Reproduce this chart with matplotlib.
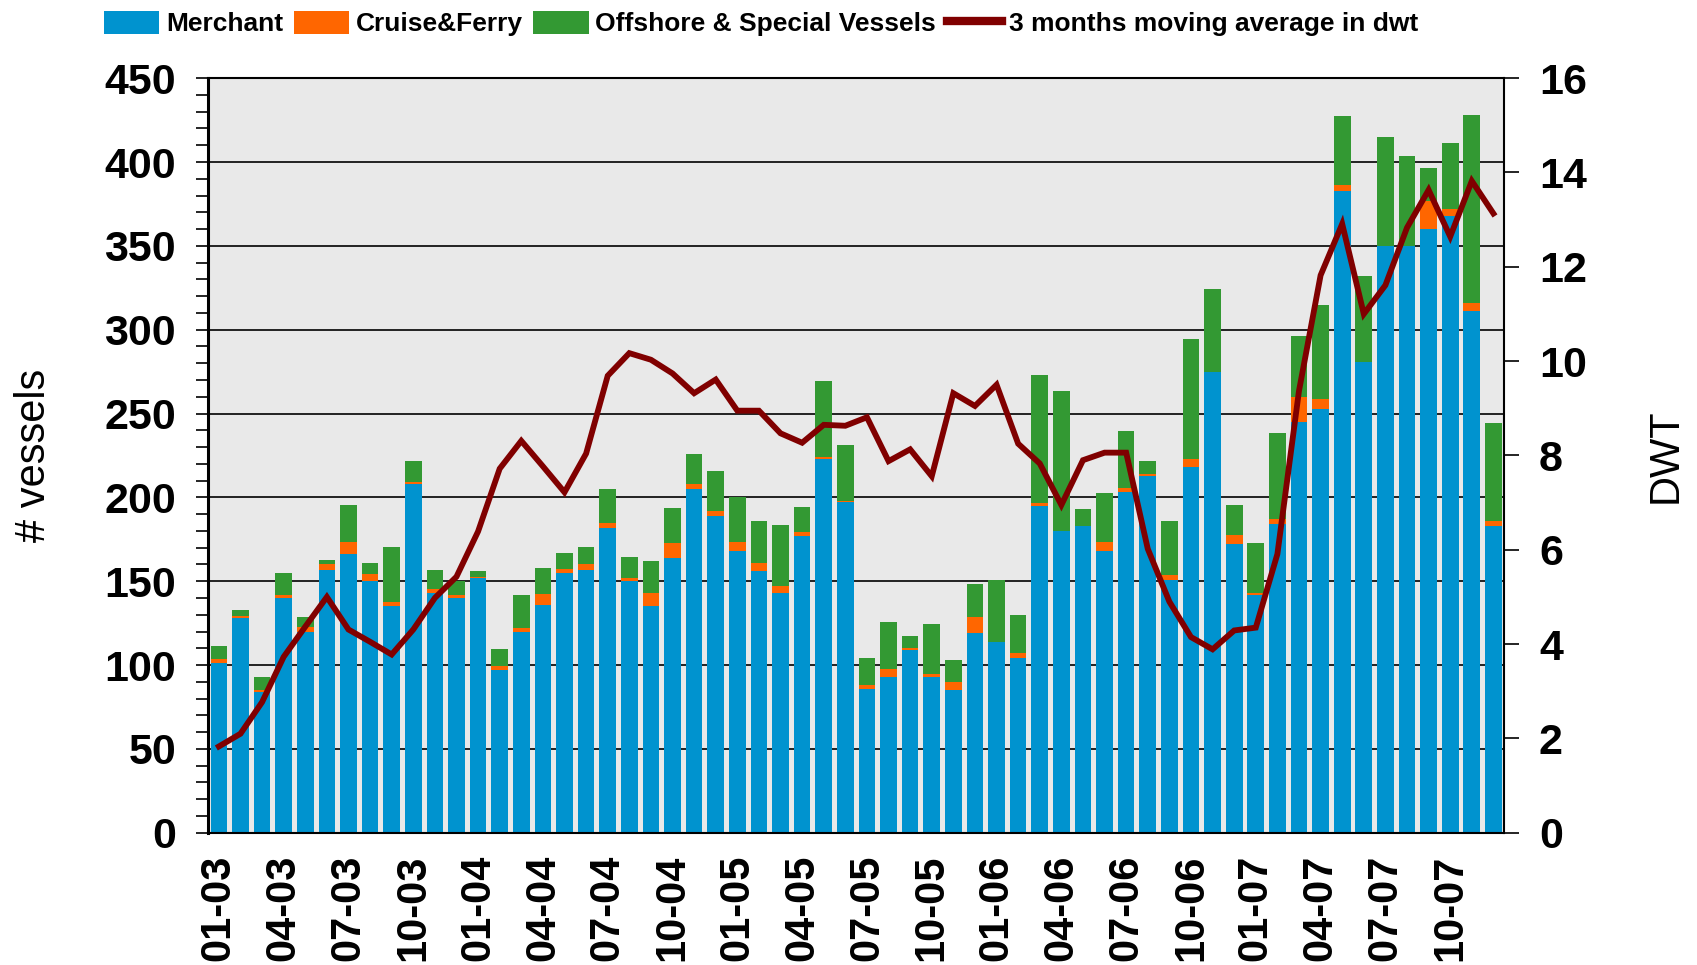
import numpy as np
import matplotlib
matplotlib.use("Agg")
import matplotlib.pyplot as plt
from matplotlib.patches import Patch
from matplotlib.lines import Line2D
from matplotlib.ticker import MultipleLocator

BLUE = '#0093cf'
ORANGE = '#ff6600'
GREEN = '#339933'
LINE_COLOR = '#800000'
BG_COLOR = '#e9e9e9'

TICK_LABELS = [
    '01-03', '04-03', '07-03', '10-03', '01-04', '04-04', '07-04', '10-04',
    '01-05', '04-05', '07-05', '10-05', '01-06', '04-06', '07-06', '10-06',
    '01-07', '04-07', '07-07', '10-07',
]

# monthly counts of vessels, Jan 2003 .. Dec 2007
merchant = [
    101, 128, 84, 140, 120, 157, 166, 150, 135, 208, 143, 140,
    152, 97, 120, 136, 155, 157, 182, 150, 135, 164, 205, 189,
    168, 156, 143, 177, 223, 197, 86, 93, 109, 93, 85, 119,
    114, 104, 195, 180, 183, 168, 203, 213, 151, 218, 275, 172,
    142, 184, 245, 253, 383, 281, 350, 350, 360, 368, 311, 183,
]
cruise_ferry = [
    2.5, 1, 1.2, 1.8, 3, 3, 7.2, 4.5, 2.7, 1.2, 2.1, 1.8,
    0.5, 2.4, 2.4, 6.6, 2.1, 3.3, 3, 1.8, 7.8, 9, 3, 3,
    5.4, 5.1, 4.2, 2.4, 1.2, 0.9, 2.1, 4.8, 0.9, 1.8, 4.8, 9.6,
    0, 3, 1.8, 0, 0, 5.4, 2.4, 1.2, 3, 4.8, 0, 5.4,
    0.9, 3, 15, 5.4, 3, 0, 0, 0, 16.8, 4.2, 4.8, 3,
]
offshore = [
    7.6, 3.9, 7.5, 12.9, 5.7, 2.7, 22.1, 6.6, 32.7, 12.6, 11.4, 8.1,
    3.4, 10.2, 19.5, 15.3, 9.9, 9.9, 20, 12.9, 19.5, 20.9, 18, 23.7,
    26.9, 24.9, 36.6, 14.9, 45.5, 33.6, 15.9, 28.1, 7.4, 29.9, 13.2, 19.5,
    36.9, 23, 76.1, 83.2, 10.1, 29.3, 33.9, 7.5, 31.8, 71.6, 49.2, 17.9,
    29.7, 51.2, 36.2, 56.6, 41.3, 51, 64.7, 53.4, 19.5, 39, 112, 58.1,
]
# 3 months moving average in dwt (right axis)
dwt_avg = [
    1.83, 2.1, 2.77, 3.73, 4.37, 5.0, 4.31, 4.05, 3.78, 4.31, 4.98, 5.43,
    6.39, 7.72, 8.31, 7.77, 7.22, 8.04, 9.69, 10.17, 10.03, 9.74, 9.32, 9.61,
    8.95, 8.95, 8.47, 8.27, 8.65, 8.63, 8.81, 7.88, 8.13, 7.56, 9.32, 9.05,
    9.5, 8.25, 7.83, 6.95, 7.9, 8.06, 8.06, 6.02, 4.9, 4.15, 3.89, 4.29,
    4.35, 5.91, 9.37, 11.82, 12.91, 11.0, 11.61, 12.83, 13.63, 12.64, 13.82, 13.13,
]

plt.rcParams['font.family'] = ['Liberation Sans', 'DejaVu Sans']

x = np.arange(len(merchant))
merchant = np.array(merchant, dtype=float)
cruise_ferry = np.array(cruise_ferry, dtype=float)
offshore = np.array(offshore, dtype=float)

fig = plt.figure(figsize=(16.97, 9.65), dpi=100)
ax1 = fig.add_axes([0.1226, 0.137, 0.7638, 0.782])
ax1.set_facecolor(BG_COLOR)

w = 0.77
ax1.bar(x, merchant, w, color=BLUE, zorder=2)
ax1.bar(x, cruise_ferry, w, bottom=merchant, color=ORANGE, zorder=2)
ax1.bar(x, offshore, w, bottom=merchant + cruise_ferry, color=GREEN, zorder=2)

ax1.set_xlim(-0.5, len(x) - 0.5)
ax1.set_ylim(0, 450)
ax1.yaxis.set_major_locator(MultipleLocator(50))
ax1.yaxis.set_minor_locator(MultipleLocator(10))
ax1.grid(axis='y', which='major', color='black', linewidth=1.2, zorder=1)
ax1.set_axisbelow(True)

ax1.set_xticks(x[::3])
ax1.set_xticklabels(TICK_LABELS, rotation=90, fontsize=30, fontweight='bold',
                    va='top', ha='center')
ax1.tick_params(axis='x', length=0, pad=16)
ax1.tick_params(axis='y', which='major', length=9, width=1.2, labelsize=31, pad=14)
ax1.tick_params(axis='y', which='minor', length=9, width=1.2)
for lab in ax1.get_yticklabels():
    lab.set_fontweight('bold')
ax1.set_ylabel('# vessels', fontsize=30, labelpad=36)

for sp in ax1.spines.values():
    sp.set_color('black')
    sp.set_linewidth(1.5)
ax1.spines['left'].set_linewidth(2.2)

ax2 = ax1.twinx()
ax2.plot(x, dwt_avg, color=LINE_COLOR, linewidth=4.2, solid_joinstyle='miter', zorder=3)
ax2.set_ylim(0, 16)
ax2.yaxis.set_major_locator(MultipleLocator(2))
ax2.tick_params(axis='y', length=11, width=1.2, labelsize=31, pad=14)
for lab in ax2.get_yticklabels():
    lab.set_fontweight('bold')
ax2.set_ylabel('DWT', fontsize=30, labelpad=42)
for sp in ax2.spines.values():
    sp.set_visible(False)

handles = [
    Patch(facecolor=BLUE, label='Merchant'),
    Patch(facecolor=ORANGE, label='Cruise&Ferry'),
    Patch(facecolor=GREEN, label='Offshore & Special Vessels'),
    Line2D([0], [0], color=LINE_COLOR, linewidth=6, label='3 months moving average in dwt'),
]
fig.legend(handles=handles, loc='upper left', bbox_to_anchor=(0.052, 1.005), ncol=4,
           frameon=False, handlelength=2.1, handleheight=0.95, handletextpad=0.25,
           columnspacing=0.4, borderaxespad=0.2,
           prop={'family': ['Liberation Sans Narrow', 'Liberation Sans'],
                 'weight': 'bold', 'size': 19})

fig.savefig('out.png', dpi=100)
